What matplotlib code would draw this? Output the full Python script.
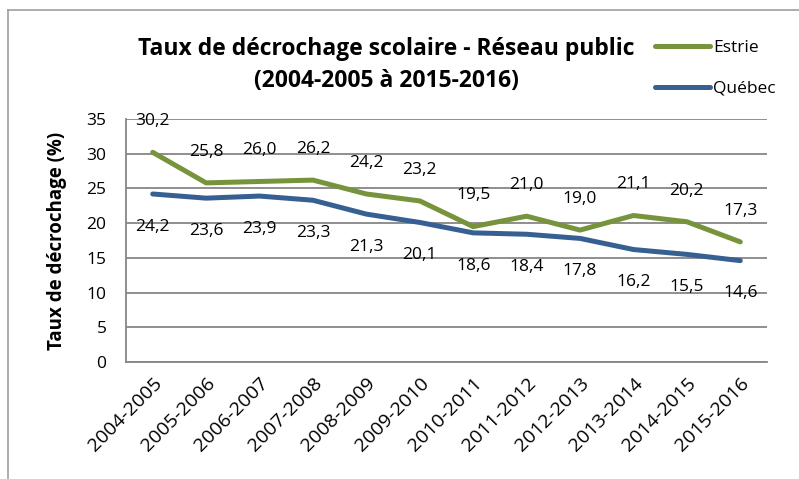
import matplotlib.pyplot as plt
import numpy as np

# Data
years = ['2004-2005', '2005-2006', '2006-2007', '2007-2008', '2008-2009', '2009-2010',
         '2010-2011', '2011-2012', '2012-2013', '2013-2014', '2014-2015', '2015-2016']
estrie = [30.2, 25.8, 26.0, 26.2, 24.2, 23.2, 19.5, 21.0, 19.0, 21.1, 20.2, 17.3]
quebec = [24.2, 23.6, 23.9, 23.3, 21.3, 20.1, 18.6, 18.4, 17.8, 16.2, 15.5, 14.6]

green = '#77933C'
blue = '#376092'
grid = '#868686'

plt.rcParams['font.family'] = ['Open Sans', 'DejaVu Sans']

fig = plt.figure(figsize=(7.99, 4.79), dpi=100)
ax = fig.add_axes([126 / 799, 1 - 362 / 479, 641 / 799, 243 / 479])

x = np.arange(len(years))
l1, = ax.plot(x, estrie, color=green, lw=3.6, solid_capstyle='round', label='Estrie')
l2, = ax.plot(x, quebec, color=blue, lw=3.6, solid_capstyle='round', label='Québec')

# Data labels: Estrie above, Québec below
for i, v in enumerate(estrie):
    ax.annotate(f"{v:.1f}".replace('.', ','), (i, v), xytext=(0, 22.5), textcoords='offset points',
                ha='center', va='center', fontsize=12.5)
for i, v in enumerate(quebec):
    ax.annotate(f"{v:.1f}".replace('.', ','), (i, v), xytext=(0, -23.5), textcoords='offset points',
                ha='center', va='center', fontsize=12.5)

ax.set_xlim(-0.5, 11.5)
ax.set_ylim(0, 35)
ax.set_yticks(range(0, 40, 5))
ax.set_xticks(x)
ax.set_xticklabels(years, rotation=45, ha='right', rotation_mode='anchor', fontsize=14)
ax.tick_params(axis='y', labelsize=12.5, length=0, pad=14)
ax.tick_params(axis='x', length=0, pad=9)
ax.yaxis.grid(True, color=grid, lw=1.3)
ax.set_axisbelow(True)
for s in ['top', 'right']:
    ax.spines[s].set_visible(False)
for s in ['left', 'bottom']:
    ax.spines[s].set_color(grid)
    ax.spines[s].set_linewidth(1.3)

ax.set_ylabel('Taux de décrochage (%)', fontsize=13.5, fontweight='bold')
ax.yaxis.set_label_coords(-59 / 641, 0.5)

fig.text(386 / 799, 1 - 65 / 479, 'Taux de décrochage scolaire - Réseau public\n(2004-2005 à 2015-2016)',
         ha='center', va='center', fontsize=16.5, fontweight='bold', linespacing=1.48)

fig.legend(handles=[l1, l2], loc='upper left', bbox_to_anchor=(655 / 799, 1 - 40 / 479),
           frameon=False, fontsize=12.5, handlelength=3.15, handletextpad=0.2,
           labelspacing=1.42, borderpad=0, borderaxespad=0)

# figure border
fig.add_artist(plt.Line2D([8 / 799, 1], [1 - 10 / 479] * 2, color='#A0A0A0', lw=1.2))
fig.add_artist(plt.Line2D([8 / 799] * 2, [0, 1 - 10 / 479], color='#A0A0A0', lw=1.2))

fig.savefig('out.png', dpi=100)
